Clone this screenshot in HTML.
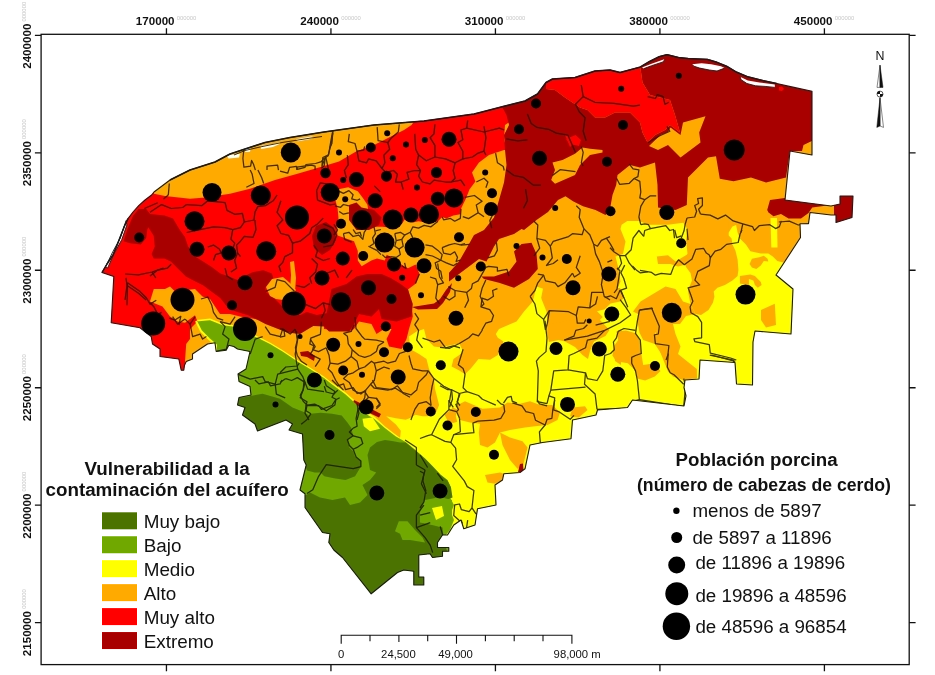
<!DOCTYPE html>
<html><head><meta charset="utf-8"><title>Mapa</title>
<style>
html,body{margin:0;padding:0;background:#fff;}
svg{display:block;font-family:"Liberation Sans",sans-serif;will-change:transform;}
.tk{font-weight:bold;font-size:11.6px;fill:#111;}
.dec{font-size:5.9px;fill:#c8c8c8;font-weight:normal;}
.lt{font-weight:bold;fill:#111;}
.li{fill:#111;}
.sb{font-size:11.3px;fill:#111;}
</style></head><body>
<svg width="935" height="675" viewBox="0 0 935 675">
<rect width="935" height="675" fill="#fff"/>
<defs><filter id="jpg" x="88" y="43" width="784" height="569" filterUnits="userSpaceOnUse" color-interpolation-filters="sRGB">
<feColorMatrix in="SourceGraphic" type="matrix" values="0.299 0.587 0.114 0 0 -0.168736 -0.331264 0.5 0 0.5 0.5 -0.418688 -0.081312 0 0.5 0 0 0 1 0" result="ycc"/>
<feGaussianBlur in="ycc" stdDeviation="1.2" result="blur"/>
<feColorMatrix in="ycc" type="matrix" values="1 0 0 0 0 0 0 0 0 0 0 0 0 0 0 0 0 0 0 1" result="yonly"/>
<feColorMatrix in="blur" type="matrix" values="0 0 0 0 0 0 1 0 0 0 0 0 1 0 0 0 0 0 0 1" result="conly"/>
<feComposite in="yonly" in2="conly" operator="arithmetic" k1="0" k2="1" k3="1" k4="0" result="sum"/>
<feColorMatrix in="sum" type="matrix" values="1 0 1.402 0 -0.701 1 -0.344136 -0.714136 0 0.531 1 1.772 0 0 -0.886 0 0 0 0 1"/>
</filter></defs>
<g filter="url(#jpg)"><rect x="80" y="36" width="800" height="584" fill="#fff"/>
<defs><clipPath id="st"><polygon points="102.0,272.5 107.0,264.0 113.0,255.0 117.5,244.0 121.5,233.7 124.5,226.0 128.0,218.6 133.0,212.0 138.7,205.7 145.0,200.0 151.6,195.0 154.0,192.0 170.0,180.0 190.0,170.0 215.0,162.0 230.0,154.0 245.0,149.0 265.0,142.5 290.0,137.5 324.0,132.0 374.0,125.0 424.0,121.0 474.0,114.0 480.0,112.5 505.0,106.0 525.0,101.0 537.5,94.0 546.0,82.5 552.5,79.0 575.0,77.5 595.0,71.0 610.0,70.0 620.0,72.5 640.0,67.1 649.6,61.4 659.3,56.6 667.0,54.6 678.5,57.5 688.1,58.5 707.4,59.4 717.0,62.3 726.6,66.2 736.3,72.0 747.8,76.8 763.2,80.6 776.7,83.5 794.0,87.4 812.0,91.2 812.0,155.0 790.0,151.0 785.0,200.0 831.0,206.0 840.0,204.0 840.0,196.0 853.0,196.0 852.0,217.5 836.0,222.5 836.0,215.0 831.0,215.0 810.0,212.5 808.5,223.8 800.0,223.8 800.5,237.5 776.0,275.0 793.0,289.0 791.0,334.0 755.0,331.0 753.0,342.0 752.5,385.0 736.5,384.0 735.0,362.5 700.0,360.0 699.0,379.0 685.0,380.0 684.0,387.5 686.0,396.0 684.0,406.0 632.5,400.0 627.5,407.5 597.5,410.0 596.0,415.0 572.5,420.0 571.0,438.8 542.5,442.5 530.0,445.0 525.0,468.8 520.0,472.5 503.8,473.8 502.5,480.0 495.0,485.0 496.0,505.0 477.5,508.8 475.0,525.0 463.8,528.8 461.0,520.0 453.8,525.0 447.5,535.0 442.5,535.0 437.5,542.5 437.5,547.5 448.8,547.5 448.8,551.2 442.5,551.2 442.5,556.2 432.5,557.5 430.0,553.8 418.8,555.0 418.8,577.0 423.8,577.0 423.8,585.0 413.8,585.0 413.8,571.2 403.8,570.0 397.5,572.5 371.2,593.8 342.5,557.5 333.8,550.0 328.8,542.5 330.0,533.8 322.5,532.5 305.0,507.5 305.0,493.8 300.0,490.0 306.2,465.0 303.8,460.0 302.5,434.0 289.0,430.0 292.5,424.0 286.0,420.0 257.5,431.0 255.0,424.0 242.5,415.0 245.0,407.5 237.5,405.0 239.0,397.5 251.0,395.0 250.0,386.5 239.0,381.5 238.0,374.0 246.0,369.0 250.0,351.5 237.5,349.0 233.8,346.5 228.8,345.2 226.2,350.2 216.2,351.5 215.0,342.8 207.5,344.0 200.0,349.0 192.5,354.0 192.5,359.0 186.2,361.5 184.5,365.2 183.8,370.2 181.2,370.2 178.8,359.0 160.0,356.5 160.0,349.0 152.5,344.0 151.2,336.5 140.0,327.8 111.2,322.8 113.8,276.5"/></clipPath></defs>
<g clip-path="url(#st)">
<rect x="90" y="40" width="780" height="570" fill="#ffaa00"/>
<polygon points="196.0,320.0 210.0,318.5 222.5,323.5 232.5,325.0 260.0,337.5 270.0,342.5 282.5,350.0 297.5,360.0 310.0,367.5 324.0,376.5 331.5,382.5 345.0,392.0 360.0,405.0 368.0,412.5 374.4,416.6 384.8,426.3 395.9,434.7 400.1,437.8 400.8,430.8 395.9,424.5 386.2,416.2 395.9,418.3 405.7,419.7 411.2,417.6 415.4,414.8 422.4,416.2 427.9,416.2 436.3,412.0 439.1,405.1 437.0,396.7 434.9,388.4 434.0,379.0 429.0,369.0 426.5,359.0 419.0,354.0 410.2,349.0 409.0,336.5 416.5,331.5 424.0,329.0 426.5,339.0 434.0,346.5 440.0,347.3 449.6,345.4 459.3,343.5 463.1,351.2 459.3,355.0 453.5,358.9 451.6,366.6 459.3,370.4 465.0,374.3 470.8,368.5 478.5,358.9 490.1,359.8 497.8,355.0 503.5,341.6 497.8,337.7 495.8,333.9 499.0,329.0 516.5,321.5 524.0,311.5 532.8,301.5 536.5,286.5 544.0,289.0 541.5,299.0 546.5,311.5 548.0,330.0 558.0,339.0 573.0,334.0 580.5,326.5 578.0,316.5 590.5,311.5 603.0,304.0 608.0,299.0 615.5,294.0 620.5,281.5 618.0,266.5 615.5,256.5 623.0,254.0 625.5,241.5 620.5,229.0 621.6,224.7 627.3,220.9 638.9,220.9 648.5,224.7 667.8,224.7 683.2,222.8 687.0,228.6 688.0,229.0 700.0,229.0 728.7,232.5 732.4,226.5 736.1,225.0 737.6,232.5 739.9,238.4 745.9,244.4 750.4,251.2 760.8,253.4 768.3,253.4 772.8,256.4 777.3,260.9 783.3,262.4 787.8,257.9 800.0,250.0 800.0,340.0 760.0,345.0 760.0,390.0 690.0,410.0 634.0,405.0 600.0,415.0 575.0,440.0 530.0,450.0 525.0,475.0 500.0,485.0 497.0,510.0 475.0,528.0 442.0,540.0 430.0,500.0 350.0,420.0 300.0,370.0 250.0,345.0 210.0,330.0" fill="#ffff00" />
<polygon points="656.8,256.5 668.0,255.2 675.5,261.5 688.0,254.0 698.0,251.5 705.5,250.2 709.2,259.0 698.0,266.5 688.0,264.0 678.0,266.5 670.5,264.0 658.0,264.0" fill="#ffaa00" />
<polygon points="687.5,222.0 728.7,222.0 728.7,235.4 731.6,238.4 732.4,244.4 735.4,250.4 737.6,259.4 738.4,269.9 737.6,275.9 732.4,280.4 724.9,284.9 717.4,287.8 713.7,291.6 714.4,296.8 712.9,302.8 708.5,310.0 701.0,315.0 695.5,314.0 690.5,304.0 688.0,291.5 689.0,287.8 692.0,280.4 690.5,272.9 686.0,266.9 684.0,262.0 687.5,253.4 686.0,240.0 687.5,229.5" fill="#ffaa00" />
<polygon points="770.5,218.0 777.0,218.0 777.5,247.4 771.3,247.4" fill="#ffff00" />
<polygon points="633.0,311.5 640.5,301.5 653.0,294.0 665.5,286.5 675.5,289.0 683.0,301.5 690.5,304.0 695.5,314.0 686.0,316.0 680.0,324.0 673.0,324.0 675.5,334.0 680.5,346.5 678.0,354.0 690.5,364.0 696.8,369.0 697.0,378.0 683.0,380.0 673.0,376.5 668.0,371.5 663.0,359.0 658.0,346.5 653.0,341.5 655.5,334.0 658.0,324.0 653.0,314.0 645.5,309.0 638.0,314.0" fill="#ffaa00" />
<polygon points="616.3,331.4 625.9,330.4 635.5,333.3 639.4,340.1 641.3,353.5 643.2,365.1 654.8,363.2 660.5,370.9 654.8,376.6 645.1,380.5 637.4,378.6 635.5,370.9 631.7,367.0 627.8,363.2 616.3,361.2 612.4,355.5 614.3,345.8 618.2,340.1" fill="#ffaa00" />
<polygon points="543.1,288.0 620.1,288.0 624.0,297.7 620.1,301.6 610.5,303.5 604.7,309.3 597.0,311.2 602.8,317.0 597.0,322.7 591.2,328.5 585.5,332.4 577.8,331.4 575.8,331.4 566.2,336.2 558.5,340.1 548.9,342.0 547.0,332.4 547.9,320.8 548.9,311.2 547.0,307.3 541.2,297.7" fill="#ffaa00" />
<polygon points="639.4,310.2 652.8,308.3 656.7,317.0 658.6,326.6 654.8,334.3 658.6,343.9 666.3,345.8 668.2,353.5 662.5,355.5 658.6,349.7 654.8,343.9 643.2,340.1 639.4,332.4 637.4,320.8" fill="#ffaa00" />
<polygon points="749.6,263.9 751.9,258.7 759.3,257.2 763.8,255.7 767.6,258.7 768.3,261.6 763.8,260.9 760.8,265.4 756.3,269.1 751.9,267.6" fill="#ffaa00" />
<polygon points="739.9,275.9 750.4,274.4 754.9,275.9 760.8,281.9 761.6,284.9 757.8,287.8 754.9,284.9 753.4,280.4 748.9,278.9 748.9,284.9 739.9,283.4" fill="#ffaa00" />
<polygon points="761.0,310.0 774.8,303.8 776.0,325.0 766.0,327.5 761.0,320.0" fill="#ffaa00" />
<polygon points="444.6,414.8 453.0,407.8 457.2,409.2 455.8,416.2 457.2,421.8 453.0,423.1 447.4,420.4" fill="#ffaa00" />
<polygon points="457.5,405.0 465.0,401.2 482.5,408.8 500.0,407.5 507.5,402.5 520.0,403.8 530.0,401.2 540.0,405.0 552.5,405.0 560.0,412.5 557.5,420.0 547.5,425.0 535.0,426.2 525.0,427.5 510.0,430.0 500.0,432.5 495.0,442.5 487.5,447.5 480.0,445.0 478.8,432.5 480.0,423.8 470.0,422.5 460.0,420.0 457.5,412.5" fill="#ffaa00" />
<polygon points="500.0,432.5 510.0,437.5 522.5,441.2 527.5,447.5 522.5,467.5 517.5,468.8 510.0,460.0 502.5,445.0" fill="#ffaa00" />
<polygon points="572.5,407.5 585.0,406.2 587.5,410.0 578.8,417.5 570.0,416.2" fill="#ffaa00" />
<polygon points="485.0,475.0 500.0,472.5 503.8,473.8 502.5,480.0 495.0,483.8 487.5,482.5" fill="#ffaa00" />
<polygon points="546.0,325.0 549.0,330.0 550.0,341.0 556.0,339.5 565.0,341.5 575.0,347.0 582.5,355.0 588.0,359.0 590.0,351.0 594.0,341.5 605.5,336.0 609.5,330.0 600.0,320.0 580.0,318.0" fill="#ffaa00" />
<polygon points="614.0,349.0 621.0,347.0 621.0,365.0 615.0,361.0" fill="#ffaa00" />
<polygon points="95.0,280.0 95.0,262.0 112.0,240.0 125.0,215.0 140.0,200.0 154.0,192.0 154.0,193.8 165.0,196.0 190.0,198.8 205.0,197.5 230.0,193.8 250.0,188.8 275.0,180.0 297.5,173.8 324.0,166.0 339.0,161.5 356.5,151.2 374.0,145.0 389.0,137.5 404.0,130.0 411.5,125.0 416.5,118.0 480.0,108.0 502.5,104.0 512.5,120.0 505.0,125.0 504.0,140.0 507.5,150.0 504.0,150.0 489.0,155.0 479.0,162.5 472.0,172.5 475.4,181.6 469.6,189.3 465.7,198.9 461.0,208.7 460.3,214.2 453.3,215.6 446.3,218.4 442.2,217.0 438.0,221.2 429.0,223.0 418.5,221.2 413.0,222.6 404.6,219.8 401.8,224.0 393.0,228.0 382.3,226.8 372.6,226.8 369.0,215.0 367.4,204.7 363.6,198.9 357.8,191.2 348.2,187.3 338.5,189.3 335.6,200.8 337.6,208.5 338.5,218.2 336.6,227.8 337.6,235.5 354.0,241.3 357.8,251.0 357.8,260.6 361.7,266.3 371.3,260.6 377.0,258.6 384.8,260.6 386.7,254.8 390.6,256.7 404.0,266.3 408.0,268.3 415.6,264.4 419.5,274.0 415.6,283.7 408.0,289.5 411.5,304.0 412.8,316.5 409.0,329.0 406.5,339.0 401.5,349.0 389.0,346.5 386.5,339.0 391.5,329.0 384.0,329.0 376.5,334.0 371.5,324.0 359.0,321.5 354.0,329.0 349.0,331.5 324.0,329.0 324.0,324.0 310.0,326.5 297.5,331.5 285.0,327.8 270.0,321.5 255.0,319.0 240.0,316.5 230.0,314.0 220.0,314.0 215.0,306.5 210.0,299.0 202.5,296.5 195.0,289.0 175.0,291.5 170.0,286.5 165.0,289.0 153.8,289.0 150.0,301.5 162.5,306.5 170.0,316.5 177.5,321.5 185.0,322.8 195.0,315.2 197.5,321.5 190.0,329.0 190.0,339.0 186.2,344.0 185.0,361.5 186.0,375.0 100.0,375.0" fill="#ff0000" />
<polygon points="546.0,80.0 552.5,75.0 575.0,73.0 595.0,67.0 610.0,66.0 620.0,68.0 640.0,65.0 642.5,82.5 650.0,95.0 670.0,100.0 675.0,115.0 680.0,132.5 670.0,125.0 665.0,130.0 655.0,135.0 647.5,142.5 642.5,132.5 640.0,122.5 630.0,112.5 615.0,112.5 605.0,117.5 595.0,117.5 587.5,110.0 580.0,107.5 572.5,102.5 565.0,97.5 555.0,90.0 546.0,89.0" fill="#ff0000" />
<polygon points="502.5,107.5 502.0,100.0 525.0,96.0 537.5,90.0 546.0,80.0 546.0,89.0 555.0,90.0 565.0,97.5 572.5,102.5 580.0,107.5 587.5,110.0 595.0,117.5 605.0,117.5 615.0,112.5 630.0,112.5 640.0,122.5 642.5,132.5 647.5,142.5 655.0,135.0 665.0,130.0 670.0,125.0 680.0,132.5 675.0,115.0 670.0,100.0 650.0,95.0 642.5,82.5 640.0,65.0 655.0,55.0 665.0,50.0 680.0,50.0 697.5,54.0 716.0,58.0 738.5,70.0 776.0,80.0 816.0,88.0 816.0,139.0 803.5,145.0 802.0,151.0 790.0,151.0 786.0,177.5 776.0,180.0 766.0,182.5 751.0,177.5 733.5,181.2 719.8,178.8 716.0,156.2 708.0,157.5 698.0,167.5 688.0,177.5 686.8,205.0 675.5,210.0 658.0,207.5 657.5,185.0 655.0,162.5 640.0,167.5 630.0,165.0 617.5,175.0 616.2,185.0 612.5,195.0 610.0,209.0 605.5,215.0 595.5,210.0 583.0,206.2 573.0,201.2 565.5,196.2 558.0,200.0 548.0,212.0 536.5,220.0 524.0,230.0 521.5,229.0 514.0,234.0 499.0,239.0 494.0,246.5 486.5,261.5 479.0,259.0 469.0,266.5 459.0,274.0 449.0,281.5 449.0,272.8 459.0,261.5 469.0,244.0 474.0,235.0 484.0,230.0 494.0,217.5 499.0,200.0 504.0,182.5 506.5,165.0 505.0,150.0 504.0,135.0 509.0,125.0 506.5,115.0" fill="#a80000" />
<polygon points="552.5,162.5 562.5,160.0 575.0,153.8 582.5,147.5 590.0,148.8 602.5,150.0 602.5,152.5 590.0,155.0 580.0,165.0 575.0,175.0 555.0,183.8 551.2,180.0 555.0,170.0" fill="#ffaa00" />
<polygon points="649.0,146.0 660.5,135.0 668.0,132.0 670.5,127.5 680.5,135.0 683.0,122.5 705.5,116.2 699.2,132.5 700.5,142.5 680.5,157.5 668.0,145.0 658.0,150.0" fill="#ffaa00" />
<polygon points="565.0,135.0 578.0,140.0 570.0,147.0" fill="#ff0000" />
<polygon points="566.0,139.0 575.5,135.0 581.0,140.0 579.0,146.0 570.0,144.0" fill="#ff0000" />
<polygon points="767.2,210.0 770.0,200.0 784.8,198.0 831.0,205.0 812.2,207.5 808.5,213.0 801.0,218.5 788.5,218.5 781.0,214.0 773.5,216.2 768.5,212.5" fill="#a80000" />
<polygon points="838.0,194.0 855.0,194.0 854.0,219.0 834.0,224.0 834.0,204.0" fill="#a80000" />
<polygon points="521.5,244.0 531.5,242.8 536.5,254.0 537.8,269.0 529.0,279.0 514.0,287.8 499.0,282.8 484.0,279.0 481.5,276.5 494.0,276.5 509.0,271.5 516.5,261.5 514.0,251.5" fill="#a80000" />
<polygon points="123.6,241.2 127.9,228.0 133.0,216.0 138.7,209.0 146.2,209.0 150.0,214.0 164.4,215.4 173.0,218.6 179.5,229.4 184.9,236.9 188.1,246.6 194.5,256.2 203.1,261.6 211.7,267.0 220.3,273.4 228.9,276.6 237.5,279.9 243.9,276.6 252.5,272.3 263.3,270.2 271.9,273.4 274.0,280.9 265.4,287.4 265.4,291.7 274.0,298.1 282.6,306.7 291.2,312.1 300.0,315.3 306.7,312.0 316.7,315.0 326.7,313.3 331.5,289.0 346.5,284.0 356.5,276.5 367.4,274.0 381.5,274.0 390.6,277.9 400.2,283.7 408.0,289.5 412.8,304.0 411.5,316.5 396.5,321.5 381.5,319.0 379.0,309.0 371.5,316.5 359.0,314.0 354.0,324.0 349.0,331.5 329.0,331.5 324.0,326.5 313.3,326.0 300.0,334.0 286.9,332.5 276.2,328.2 265.4,323.9 256.8,319.6 248.2,315.3 237.5,312.1 228.9,308.9 220.3,298.1 211.7,291.7 203.1,285.2 194.5,280.9 185.9,276.6 177.3,268.0 170.9,261.6 164.4,258.4 153.7,258.4 151.6,254.1 154.8,246.6 153.7,235.8 148.3,227.2 147.3,229.4 146.2,238.0 140.8,244.4 130.1,243.3" fill="#a80000" />
<polygon points="266.0,287.0 272.0,279.0 283.0,277.0 290.0,283.0 296.0,290.0 290.0,296.0 283.0,300.0 276.0,299.0 270.0,296.0" fill="#ffaa00" />
<polygon points="412.0,307.0 434.0,303.5 440.0,299.0 446.0,290.0 452.0,283.0 450.0,292.0 443.0,303.0 437.0,309.0 418.0,309.5" fill="#a80000" />
<polygon points="316.0,226.0 326.0,222.0 334.0,228.0 336.0,240.0 330.0,250.0 322.0,255.0 314.0,248.0 312.0,236.0" fill="#a80000" />
<polygon points="349.0,205.0 356.5,202.5 361.5,207.5 374.0,210.0 381.5,217.5 379.0,225.0 369.0,230.0 356.5,230.0 349.0,220.0" fill="#a80000" />
<polygon points="300.0,352.0 308.0,351.0 315.0,356.0 314.0,361.0 307.0,357.0 301.0,356.0" fill="#a80000" />
<polygon points="354.0,400.0 362.0,404.0 381.0,414.0 379.0,417.5 360.0,408.5 353.0,402.5" fill="#a80000" />
<polygon points="290.0,262.0 294.0,261.0 296.0,278.0 295.0,291.0 290.0,291.0 291.0,275.0" fill="#ffaa00" />
<polygon points="196.2,321.5 210.0,320.2 222.5,325.2 232.5,326.5 260.0,339.0 270.0,344.0 282.5,351.5 297.5,361.5 310.0,369.0 324.0,378.0 331.5,384.0 345.0,394.0 360.0,407.5 366.0,414.0 374.4,419.0 384.8,428.0 395.9,436.5 405.7,442.0 415.4,450.0 425.2,458.5 433.5,467.0 440.5,474.5 447.5,480.0 451.0,487.5 450.0,497.5 454.0,505.0 451.0,512.5 454.0,520.0 450.0,530.0 442.5,539.0 453.0,539.0 453.0,556.0 470.0,600.0 216.0,600.0 216.0,345.0 209.0,339.0 201.0,331.0" fill="#70a800" />
<polygon points="362.5,418.8 372.5,417.5 380.0,428.8 370.0,431.2 363.8,426.2" fill="#ffff00" />
<polygon points="242.5,397.5 262.5,393.8 280.0,398.8 292.5,407.5 305.0,412.5 310.0,416.2 302.5,422.5 300.0,432.5 292.5,431.2 288.8,430.0 292.5,423.8 286.2,420.0 257.5,431.2 255.0,423.8 242.5,415.0 245.0,407.5 237.5,405.0 230.0,397.5" fill="#4c7300" />
<polygon points="298.0,433.0 301.2,424.3 307.0,419.5 310.9,413.7 320.5,412.7 332.0,413.7 341.7,415.6 347.4,422.4 351.3,428.1 353.2,435.8 347.4,439.7 349.4,447.4 353.2,451.2 355.1,457.0 360.9,460.9 360.9,466.6 355.1,476.3 345.5,480.1 334.0,478.2 324.3,476.3 320.5,472.4 314.7,472.4 307.0,470.5 303.2,460.9 298.0,443.5" fill="#4c7300" />
<polygon points="306.2,495.0 310.0,492.5 320.0,497.5 332.5,500.0 345.0,497.5 350.0,505.0 360.0,502.5 367.5,495.0 362.5,485.0 370.0,480.0 376.2,472.5 370.0,470.0 367.5,455.0 370.0,447.5 377.0,442.0 385.0,440.0 392.0,441.0 400.0,442.5 405.7,442.5 415.4,450.5 425.2,459.0 433.5,467.5 440.5,475.0 447.5,480.5 451.0,487.5 452.5,497.5 440.0,502.5 430.0,500.0 427.5,507.5 420.0,515.0 420.0,522.5 435.0,525.0 442.5,527.5 444.0,540.0 460.0,600.0 290.0,600.0 290.0,500.0" fill="#4c7300" />
<polygon points="395.0,531.2 398.8,521.2 407.5,521.2 415.0,530.0 422.5,537.5 425.0,542.5 410.0,540.0 402.5,540.0 400.0,533.8" fill="#70a800" />
<polygon points="425.0,500.0 440.0,497.0 452.0,500.0 452.0,518.0 440.0,527.0 420.0,522.0 420.0,512.0" fill="#70a800" />
<polygon points="432.0,508.0 442.0,506.0 444.0,516.0 436.0,520.0" fill="#ffff00" />
<polygon points="520.0,464.0 523.0,463.5 523.5,470.0 521.0,473.0 518.0,472.0" fill="#a80000" />
<polygon points="779.0,87.0 782.0,86.5 784.0,89.0 782.0,91.0 779.0,90.5" fill="#ff0000" />
<polyline points="196.0,321.0 201.0,331.0 209.0,339.0 216.0,345.0 216.0,352.0" fill="none" stroke="#ffff00" stroke-width="2.0"/>
</g>
<polygon points="126.1,220.6 126.9,225.0 121.7,239.8 114.3,253.1 107.6,268.0 105.4,267.2 112.8,251.7 120.2,238.3 124.6,225.0" fill="#fff" />
<polygon points="226.6,155.6 240.0,153.7 239.1,157.5 228.5,158.5" fill="#fff" />
<polygon points="244.8,149.2 250.6,148.5 250.0,151.8 245.5,152.0" fill="#fff" />
<polygon points="260.2,146.0 272.8,144.1 280.5,142.1 279.5,144.1 272.8,147.0 261.2,148.9" fill="#fff" />
<polygon points="295.9,139.3 311.3,136.4 315.1,137.3 309.3,139.3 297.8,141.2" fill="#fff" />
<polygon points="642.0,67.6 651.6,63.8 665.0,59.0 663.1,61.9 651.6,65.7 643.9,68.6" fill="#fff" />
<polygon points="692.0,64.3 701.6,63.3 711.2,64.3 720.9,66.2 724.7,68.1 717.0,71.0 709.3,70.0 699.7,68.1 693.9,66.2" fill="#fff" />
<polygon points="740.1,76.8 747.8,80.6 759.4,82.5 774.8,84.5 774.8,87.4 765.1,86.4 755.5,85.8 746.9,83.5 741.1,79.7" fill="#fff" />
<g clip-path="url(#st)" fill="none" stroke="#1c1408" stroke-width="1.25" stroke-linejoin="round" opacity="0.85">
<polyline points="606.4,238.1 610.3,243.9 614.1,250.6" />
<polyline points="614.1,293.0 617.0,289.1 619.9,270.8 617.0,267.9" />
<polyline points="612.2,260.2 607.4,262.2" />
<polyline points="624.7,265.1 620.9,272.8 623.8,278.5 626.6,288.2 620.9,290.1 623.8,297.8" />
<polyline points="632.4,266.0 636.3,269.9 640.1,272.8 647.8,271.8" />
<polyline points="332.9,132.7 331.0,144.3 328.1,155.8 325.2,157.8 324.3,165.5 321.4,168.3" />
<polyline points="280.0,171.2 287.7,173.2 289.6,167.4 296.4,166.4 297.3,169.3 305.0,167.4 306.0,164.5 315.6,163.5 321.4,161.6 324.3,157.8" />
<polyline points="316.6,190.5 320.4,182.8 330.1,184.7 335.8,190.5" />
<polyline points="316.6,190.5 317.5,200.1" />
<polyline points="317.5,200.1 330.1,204.9 335.8,204.0" />
<polyline points="581.3,146.6 583.2,152.4 581.3,163.0 583.2,165.9" />
<polyline points="552.4,175.5 560.1,169.7 567.8,170.7 575.5,171.6" />
<polyline points="527.4,113.9 531.2,123.5 537.0,127.4 548.6,129.3 556.3,133.1 567.8,135.1" />
<polyline points="581.3,85.0 583.2,96.6 575.5,104.3 579.4,112.0 585.1,117.7 583.2,131.2 586.1,140.8" />
<polyline points="583.2,96.6 594.8,102.3 614.0,103.3 633.3,106.2 640.0,105.2" />
<polyline points="506.2,138.9 517.8,140.8 527.4,139.9" />
<polyline points="506.2,169.7 513.9,175.5 523.5,177.4 533.2,185.1 540.9,185.1" />
<polyline points="567.8,135.1 575.5,152.4" />
<polyline points="525.5,189.0 527.4,200.5 523.5,208.2" />
<polyline points="647.7,96.6 655.4,98.5 657.3,94.6 663.1,96.6 665.0,104.3 668.9,102.3" />
<polyline points="667.0,126.4 669.8,131.2 659.3,136.0 647.7,142.8" />
<polyline points="169.3,183.5 168.3,195.0" />
<polyline points="125.0,274.0 138.5,274.9 152.0,272.0 163.5,268.2" />
<polyline points="126.0,277.8 127.0,285.5 125.0,300.0" />
<polyline points="127.0,285.5 138.5,293.2 146.2,300.0" />
<polyline points="246.3,187.3 254.0,183.5 252.1,173.9 250.2,170.0" />
<polyline points="257.9,170.0 261.7,177.7 263.7,183.5" />
<polyline points="152.0,272.0 155.8,277.8" />
<polyline points="144.3,208.5 157.8,202.7" />
<polyline points="163.5,198.9 168.3,195.0" />
<polyline points="419.4,274.0 415.5,283.6" />
<polyline points="323.1,223.9 332.7,227.8" />
<polyline points="332.7,227.8 336.6,235.5 332.7,245.1 323.1,247.0" />
<polyline points="325.0,274.0 334.7,270.1 338.5,277.8" />
<polyline points="346.2,277.8 352.0,270.1" />
<polyline points="280.0,328.5 283.9,329.5 284.8,336.2 280.0,337.2" />
<polyline points="296.4,331.4 297.3,340.1 295.4,347.8 297.3,355.5 301.2,361.2 307.0,365.1" />
<polyline points="321.4,321.8 320.4,334.3 310.8,338.1 309.8,343.9 313.7,345.8 312.7,349.7 318.5,351.6 326.2,347.8" />
<polyline points="326.2,347.8 329.1,355.5 330.1,363.2 328.1,368.9 332.0,372.8 335.8,380.5 339.7,386.3 343.5,390.1" />
<polyline points="330.1,363.2 337.8,364.1 345.5,361.2 351.2,356.4 352.2,349.7 348.3,343.9 347.4,336.2 343.5,333.3" />
<polyline points="343.5,333.3 351.2,331.4 354.1,324.7" />
<polyline points="355.1,317.0 356.0,328.5 361.8,336.2 364.7,339.1 376.3,340.1 384.0,342.0" />
<polyline points="352.2,349.7 358.9,355.5 364.7,357.4 370.5,355.5 376.3,351.6 378.2,345.8 384.0,342.0" />
<polyline points="351.2,356.4 357.0,361.2 358.9,368.9 353.2,372.8 347.4,374.7 343.5,378.6 349.3,382.4 353.2,390.1 360.9,394.0 365.7,390.1" />
<polyline points="358.9,368.9 364.7,367.0 371.5,361.2 374.3,363.2 376.3,370.9 374.3,380.5 370.5,384.3 365.7,390.1" />
<polyline points="374.3,363.2 384.0,361.2 387.8,363.2 395.5,361.2 399.4,353.5 405.1,351.6 409.0,347.8" />
<polyline points="376.3,370.9 384.0,367.0 389.7,368.9" />
<polyline points="370.5,384.3 374.3,388.2 387.8,390.1 395.5,388.2 401.3,392.0 410.9,394.9 416.7,390.1 418.6,382.4 426.3,374.7 428.2,370.9" />
<polyline points="409.0,355.5 410.9,363.2 412.8,368.9 422.5,370.9 428.2,370.9 434.0,378.6 432.1,386.3 430.2,397.8 431.1,405.5" />
<polyline points="365.7,390.1 364.7,397.8 362.8,401.7" />
<polyline points="376.3,397.8 380.1,403.6 376.3,407.4" />
<polyline points="410.9,420.0 414.8,409.4 418.6,403.6 426.3,401.7 431.1,405.5" />
<polyline points="414.8,313.1 418.6,318.9 414.8,324.7 418.6,330.4 416.7,340.1 422.5,347.8" />
<polyline points="422.5,338.1 434.0,342.0 439.8,340.1 445.6,347.8 453.3,345.8 460.0,347.8" />
<polyline points="434.0,378.6 443.7,386.3 451.4,390.1 449.4,401.7 453.3,407.4" />
<polyline points="460.0,394.0 457.1,401.7 460.0,405.5" />
<polyline points="280.0,372.8 285.8,367.0 297.3,366.0 299.3,363.2" />
<polyline points="285.8,378.6 291.6,380.5 297.3,377.6 305.0,382.4 303.1,390.1 300.2,397.8 307.0,401.7 306.0,405.5 318.5,405.5 321.4,409.4 332.0,405.5 335.8,399.7 339.7,397.8" />
<polyline points="324.3,386.3 326.2,392.0 333.9,394.0 337.8,390.1" />
<polyline points="280.0,382.4 285.8,378.6" />
<polyline points="306.0,405.5 305.0,413.2 308.9,420.0" />
<polyline points="357.0,403.6 358.9,413.2 357.0,420.0" />
<polyline points="440.0,385.8 447.7,389.7 451.6,389.7 452.5,399.3 449.6,407.0" />
<polyline points="451.6,389.7 459.3,393.5 467.0,391.6 478.5,395.5 482.4,399.3 495.8,405.1" />
<polyline points="503.5,403.2 507.4,397.4 511.2,396.4 512.2,401.2 517.0,403.2" />
<polyline points="459.3,393.5 456.4,407.0" />
<polyline points="463.1,349.3 458.3,364.7 463.1,368.5 465.0,374.3 463.1,387.8 467.0,391.6" />
<polyline points="440.0,347.3 449.6,348.3 459.3,343.5 468.9,337.7 472.7,333.9 478.5,335.8 482.4,330.0" />
<polyline points="711.4,355.0 735.2,361.3" />
<polyline points="778.8,222.0 789.3,221.2 798.3,225.0 808.7,223.5 811.7,214.5" />
<polyline points="709.8,355.2 733.5,360.2 734.8,368.9" />
<polyline points="255.0,380.0 258.9,383.9 268.5,381.9 270.4,385.8 280.1,383.9 282.0,380.0" />
<polyline points="304.1,380.0 303.2,389.6 300.3,395.4 303.2,401.2 307.0,405.0 306.0,410.8 310.9,413.7" />
<polyline points="307.0,405.0 314.7,404.1 320.5,407.0 326.3,410.8 334.9,405.0 335.9,399.3 332.0,397.3 334.9,391.6 326.3,385.8 324.3,380.0" />
<polyline points="310.9,413.7 307.0,419.5 301.2,424.3" />
<polyline points="353.2,428.1 349.4,432.0 353.2,435.8 347.4,439.7 349.4,445.5 353.2,449.3 356.1,457.0 360.9,460.9 360.9,466.6 353.2,468.6 326.3,464.7 318.6,476.3 312.8,489.7 307.0,493.6" />
<polyline points="353.2,428.1 357.1,426.2 356.1,418.5 358.0,408.9 362.8,407.0" />
<polyline points="353.2,435.8 360.9,437.8 362.8,443.5 357.1,447.4 353.2,449.3" />
<polyline points="332.0,380.0 337.8,385.8 343.6,383.9 345.5,389.6 353.2,387.7 357.1,393.5 364.8,391.6 368.6,397.3 364.8,401.2" />
<polyline points="368.6,397.3 376.3,398.3 380.2,405.0 376.3,408.9" />
<polyline points="372.5,380.0 376.3,387.7 391.7,389.6 397.5,385.8 403.3,393.5 410.0,397.3" />
<polyline points="416.4,465.0 425.1,470.0" />
<polyline points="425.1,470.0 421.4,483.8 426.4,493.8" />
<polyline points="423.9,505.1 416.4,515.1 416.4,527.6 425.1,537.6 430.2,545.1 432.7,552.6" />
<polyline points="420.1,455.0 427.6,467.5" />
<polyline points="416.4,465.0 416.4,447.5 405.1,440.0" />
<polyline points="467.7,520.1 466.4,528.8 462.7,528.8 461.4,520.1" />
<polyline points="416.4,527.6 430.2,522.6" />
<polyline points="440.2,526.3 442.7,535.1" />
<polyline points="420.1,515.1 430.2,512.6" />
<polyline points="127.5,282.8 127.0,305.3" />
<polyline points="127.5,282.8 140.1,291.6 146.3,297.8 150.1,304.1 156.3,300.3" />
<polyline points="220.1,321.6 225.1,326.6 222.6,334.1 228.9,339.1 226.4,349.1 215.1,351.6" />
<polyline points="172.6,316.6 177.6,324.1 185.1,319.1" />
<polyline points="185.1,319.1 190.1,324.1 195.1,316.6" />
<polyline points="190.1,324.1 192.6,336.6 200.1,334.1 202.6,339.1 206.4,336.6" />
<polyline points="220.1,321.6 230.1,324.1 235.1,316.6" />
<polyline points="265.2,326.6 270.2,334.1 280.2,336.6 282.7,329.1 290.2,334.1 295.2,329.1" />
<polyline points="237.6,374.1 250.2,379.2 262.7,376.6 265.2,381.7 275.2,384.2 277.7,374.1 297.7,369.1 302.7,376.6 307.7,389.2 324.0,391.7" />
<polyline points="275.2,384.2 276.4,394.2 285.2,397.9" />
<polyline points="297.7,369.1 295.2,354.1 297.7,339.1 295.2,329.1" />
<polyline points="310.2,339.1 315.2,346.6 310.2,354.1 320.2,359.1 315.2,366.6" />
<polyline points="250.2,354.1 255.2,339.1 262.7,336.6" />
<polyline points="604.7,297.7 610.5,295.8 616.3,298.7 620.1,290.0" />
<polyline points="545.0,320.8 547.0,338.1 546.0,351.6 539.3,357.4 536.4,361.2 538.3,370.9 537.3,401.7 547.0,403.6" />
<polyline points="547.0,403.6 548.9,395.9 554.7,397.8 553.7,409.4" />
<polyline points="564.3,340.1 573.9,336.2 575.8,330.4 583.5,328.5 587.4,324.7" />
<polyline points="564.3,340.1 587.4,336.2 604.7,330.4 620.1,322.7 630.7,315.0 625.9,307.3 620.1,299.6" />
<polyline points="550.8,390.1 553.7,370.9 568.1,369.9 569.1,355.5 573.9,353.5 585.5,347.8 587.4,340.1 597.0,338.1 604.7,330.4" />
<polyline points="568.1,369.9 585.5,372.8 587.4,378.6 597.0,380.5 602.8,370.9 604.7,355.5 610.5,353.5 614.3,349.7 613.4,342.0 616.3,338.1 618.2,331.4 624.0,328.5 635.5,330.4" />
<polyline points="585.5,372.8 584.5,384.3 595.1,394.0 597.0,409.4" />
<polyline points="597.0,409.4 627.8,408.4 631.7,401.7 639.4,399.7 683.7,406.5 685.6,386.3 683.7,378.6" />
<polyline points="639.4,399.7 637.4,380.5 635.5,370.9 631.7,363.2 631.7,357.4 635.5,355.5 641.3,353.5 640.3,340.1 635.5,333.3 637.4,320.8 639.4,310.2 652.8,308.3" />
<polyline points="668.2,353.5 667.3,367.0 670.2,372.8 674.0,374.7 683.7,384.3" />
<polyline points="550.8,390.1 585.5,387.2" />
<polyline points="550.8,390.1 548.9,395.9" />
<polyline points="620.1,290.0 624.0,297.7 627.8,307.3" />
<polyline points="460.8,245.2 469.5,244.3" />
<polyline points="437.7,263.5 439.6,277.0 443.5,282.8 437.7,284.7" />
<polyline points="430.0,277.0 435.8,278.9 437.7,284.7 435.8,298.2 439.6,304.0" />
<polyline points="448.3,286.6 455.0,290.5 455.0,296.3 449.3,300.1 443.5,296.3" />
<polyline points="455.0,290.5 466.6,292.4 471.4,288.6 472.4,283.8 478.1,280.9 482.0,274.1" />
<polyline points="482.0,274.1 485.8,267.4 488.7,266.4 497.4,267.4 497.4,271.2 507.0,269.3 508.9,276.0" />
<polyline points="487.8,257.8 494.5,255.8 497.4,250.1 496.4,242.4" />
<polyline points="485.8,279.9 482.0,288.6 480.1,296.3 483.9,304.0 481.0,306.9 489.7,309.7 493.5,315.5 491.6,321.3 485.8,323.2 482.0,330.0" />
<polyline points="481.0,306.9 482.0,298.2 487.8,300.1 493.5,296.3 492.6,290.5 497.4,288.6" />
<polyline points="534.0,221.2 537.8,225.0 536.9,238.5 539.7,248.1 534.0,255.8" />
<polyline points="536.9,238.5 545.5,240.4 550.3,246.2 553.2,241.4 568.6,236.6 572.5,233.7 582.1,234.7 584.0,228.9 579.2,217.3 580.2,209.6 576.3,205.8" />
<polyline points="550.3,246.2 552.3,257.8 546.5,265.5 553.2,263.5 558.0,259.7" />
<polyline points="584.0,228.9 589.8,234.7 593.7,244.3 597.5,246.2 601.4,240.4 610.0,236.6" />
<polyline points="593.7,244.3 595.6,253.9 599.4,261.6 603.3,273.2 601.4,284.7 604.2,296.3 610.0,300.1" />
<polyline points="580.2,255.8 576.3,267.4 580.2,273.2 574.4,277.0 572.5,273.2" />
<polyline points="537.8,274.1 543.6,275.1 545.5,280.9 555.1,282.8 558.0,286.6 564.8,282.8 572.5,273.2" />
<polyline points="530.1,296.3 534.9,290.5 537.8,282.8 543.6,275.1" />
<polyline points="530.1,296.3 534.9,304.0 536.9,313.6 543.6,319.4 545.5,330.0" />
<polyline points="543.6,319.4 549.4,310.7 568.6,311.7 576.3,315.5 578.2,306.9 589.8,307.8 591.7,292.4 603.3,292.4" />
<polyline points="576.3,315.5 577.3,323.2 584.0,323.2 585.9,319.4" />
<polyline points="589.8,307.8 595.6,304.0 597.5,296.3" />
<polyline points="595.6,325.1 610.0,321.3" />
<polyline points="549.4,310.7 547.4,323.2 545.5,330.0" />
<polyline points="466.6,292.4 468.5,300.1 464.7,307.8" />
<polyline points="629.3,164.1 633.1,168.9 638.9,169.8 637.9,176.6 634.1,178.5 639.8,181.4 640.8,192.0 639.8,197.8 644.7,199.7 640.8,206.4 638.9,217.0 640.8,224.7" />
<polyline points="616.7,178.5 619.6,184.3 629.3,183.3 634.1,178.5" />
<polyline points="644.7,199.7 650.4,195.8 656.2,195.8" />
<polyline points="640.8,224.7 644.7,223.8 648.5,224.7 650.4,228.6 644.7,230.5 643.7,236.3" />
<polyline points="643.7,236.3 638.9,230.5 633.1,238.2 631.2,249.7 625.4,255.5 629.3,263.2 635.0,270.0" />
<polyline points="650.4,228.6 665.8,225.7 669.7,230.5 673.5,229.5 674.5,238.2" />
<polyline points="681.2,238.2 684.1,230.5 685.1,224.7 687.0,218.0" />
<polyline points="687.0,218.0 694.7,217.0 696.6,211.2 694.7,205.5 698.6,203.5 697.6,198.7 702.4,197.8 702.4,205.5 698.6,209.3 700.5,214.1" />
<polyline points="700.5,214.1 710.1,215.1 717.8,218.9 725.5,215.1 733.2,220.9 742.8,223.8 752.5,226.6 754.4,230.5 759.2,225.7 769.8,224.7 775.6,228.6 779.4,226.6 781.4,220.9" />
<polyline points="742.8,223.8 740.9,232.4" />
<polyline points="610.0,247.8 613.9,251.7 619.6,255.5 625.4,255.5" />
<polyline points="619.6,255.5 621.6,263.2 617.7,270.0" />
<polyline points="687.0,228.6 688.0,240.1" />
<polyline points="448.9,400.0 448.9,409.6 439.3,419.3 431.6,434.7 427.7,435.6 420.0,438.5" />
<polyline points="431.6,434.7 445.0,441.4 450.8,442.4 453.7,434.7 473.9,432.7 472.9,423.1 477.8,421.2" />
<polyline points="450.8,442.4 455.6,448.1 456.6,459.7 452.7,466.4 464.3,480.9 467.2,486.6 473.9,490.5 472.0,507.8 469.1,511.7 461.4,509.7 459.5,504.0 454.7,504.9 453.7,515.5 462.4,523.2" />
<polyline points="459.5,418.3 460.4,431.8 453.7,434.7" />
<polyline points="448.9,409.6 456.6,411.6 459.5,418.3" />
<polyline points="455.6,403.9 458.5,409.6 456.6,411.6" />
<polyline points="503.8,404.8 504.7,411.6 500.9,418.3 494.1,420.2 477.8,421.2" />
<polyline points="512.4,402.9 522.0,405.8 525.9,411.6 533.6,413.5 535.5,420.2 545.1,425.0 547.1,419.3 551.9,418.3 552.8,409.6 554.8,400.0" />
<polyline points="545.1,425.0 539.4,431.8 540.3,442.4 543.2,445.2" />
<polyline points="472.0,507.8 475.8,513.6 477.8,513.6" />
<polyline points="497.0,400.0 500.9,403.9 503.8,404.8" />
<polyline points="552.8,409.6 558.6,411.6 570.2,419.3 574.0,415.4" />
<polyline points="537.4,400.0 539.4,403.9 547.1,405.8" />
<polyline points="420.0,471.2 423.9,473.2 422.9,480.9 425.8,490.5 423.9,502.0 420.0,507.8" />
<polyline points="437.3,473.2 443.1,480.9" />
<polyline points="243.9,148.9 242.9,158.5 243.9,167.2 250.6,166.2 251.6,160.4 253.5,164.3 255.4,170.1" />
<polyline points="267.0,170.1 267.0,166.2 277.6,165.2 278.5,170.1" />
<polyline points="296.8,170.1 296.8,167.2 311.3,165.2 315.1,166.2 315.1,170.1" />
<polyline points="332.4,132.5 330.5,143.1 328.6,154.7 322.8,157.5 321.9,166.2 325.7,156.6 328.6,170.1" />
<polyline points="150.0,212.3 161.6,204.6 171.2,208.5 182.7,207.5 186.6,204.6" />
<polyline points="186.6,204.6 202.0,205.6 207.8,200.8 225.1,202.7 227.0,210.4 234.7,214.3 242.4,213.3 244.3,222.0 240.5,227.7 232.8,229.7 230.9,239.3 234.7,243.1 232.8,248.9" />
<polyline points="186.6,232.5 200.1,229.7 213.5,226.8 225.1,227.7 232.8,229.7" />
<polyline points="244.3,222.0 254.0,220.0 254.9,212.3 257.8,206.6 265.5,205.6 273.2,200.8 277.1,195.0" />
<polyline points="254.9,220.0 255.9,229.7 253.0,237.4 244.3,236.4 240.5,241.2 236.6,245.1 237.6,252.8 240.5,256.6" />
<polyline points="207.8,247.0 213.5,245.1 219.3,248.9 221.2,252.8 215.5,254.7 213.5,260.5" />
<polyline points="237.6,252.8 234.7,260.5 236.6,268.2 230.9,272.0" />
<polyline points="225.1,268.2 227.0,275.9 232.8,279.7" />
<polyline points="280.9,200.8 277.1,212.3 282.8,220.0 277.1,225.8 280.9,233.5 288.6,235.4 292.5,243.1 292.5,252.8 284.8,256.6 282.8,262.4 279.0,266.2 280.9,272.0" />
<polyline points="292.5,243.1 300.2,241.2 309.8,233.5 311.7,227.7 317.5,223.9 323.3,218.1" />
<polyline points="313.7,245.1 317.5,250.8 315.6,256.6 323.3,260.5 330.0,258.5" />
<polyline points="311.7,258.5 317.5,264.3 315.6,272.0 309.8,277.8 311.7,283.6" />
<polyline points="296.3,285.5 304.0,287.4 309.8,283.6" />
<polyline points="150.0,275.9 157.7,270.1 167.3,268.2 171.2,264.3" />
<polyline points="265.5,291.3 275.1,287.4 277.1,279.7 284.8,281.6 290.5,287.4 294.4,291.3" />
<polyline points="305.9,304.7 315.6,308.6 323.3,302.8 330.0,304.7" />
<polyline points="321.4,318.2 325.2,310.5 323.3,302.8" />
<polyline points="201.0,299.0 207.8,297.0 211.6,304.7 213.5,312.4 217.4,318.2 223.2,320.1" />
<polyline points="169.3,318.2 175.0,320.1 180.8,316.3 178.9,325.0" />
<polyline points="150.0,302.8 153.9,306.7 157.7,314.4 161.6,312.4" />
<polyline points="332.9,131.0 331.9,143.5 330.0,147.4" />
<polyline points="349.3,133.9 348.3,141.6 355.0,143.5 357.0,151.2 363.7,150.2 364.7,146.4" />
<polyline points="377.2,127.1 378.1,140.6 387.8,142.5 391.6,137.7" />
<polyline points="399.3,124.3 398.3,132.0 391.6,137.7" />
<polyline points="387.8,142.5 389.7,149.3 383.9,155.1 384.9,162.8 382.0,168.5 385.8,172.4" />
<polyline points="357.0,151.2 358.9,160.8 366.6,162.8 368.5,158.9 376.2,160.8 382.0,168.5" />
<polyline points="347.3,155.1 348.3,164.7 344.4,170.5 346.4,178.2" />
<polyline points="414.7,133.9 415.7,149.3 418.6,155.1 416.6,164.7 420.5,170.5 418.6,176.2 422.4,182.0" />
<polyline points="434.9,124.3 434.0,133.9 430.1,137.7 434.9,145.4 434.9,157.0 426.3,160.8 418.6,155.1" />
<polyline points="434.9,157.0 445.5,158.9 455.1,162.8 453.2,170.5 455.1,178.2 451.3,182.0" />
<polyline points="467.7,120.4 466.7,128.1 460.9,130.0 462.8,139.7 458.0,142.5 462.8,151.2 462.8,158.9 455.1,162.8" />
<polyline points="462.8,158.9 472.5,157.0 478.2,153.1 484.0,151.2" />
<polyline points="484.0,126.2 485.9,137.7 484.0,151.2 485.9,155.1" />
<polyline points="466.7,128.1 484.0,132.0 499.4,128.1 504.2,130.0" />
<polyline points="401.2,182.0 408.9,179.1 407.0,172.4 414.7,170.5 420.5,170.5" />
<polyline points="401.2,182.0 403.2,189.7" />
<polyline points="422.4,182.0 430.1,183.9 434.0,180.1 445.5,182.0 451.3,182.0 460.9,180.1 464.8,185.9" />
<polyline points="385.8,172.4 393.5,170.5 397.4,174.3 395.5,182.0 401.2,182.0" />
<polyline points="374.3,185.9 380.1,191.6" />
<polyline points="476.3,182.0 484.0,178.2 487.9,182.0 485.9,187.8" />
<polyline points="464.8,197.4 474.4,195.5 482.1,201.3 476.3,205.1 478.2,212.8 484.0,216.7" />
<polyline points="462.8,216.7 468.6,218.6 478.2,212.8" />
<polyline points="495.6,153.1 497.5,162.8 503.3,166.6 504.2,170.5" />
<polyline points="333.9,224.4 337.7,230.1" />
<polyline points="337.7,230.1 333.9,235.0" />
<polyline points="493.7,212.8 489.8,220.5 491.7,228.2" />
<polyline points="337.8,190.6 343.4,193.4 348.9,190.6 353.1,194.7 351.7,198.9 357.3,200.3 360.1,198.9" />
<polyline points="335.0,205.9 340.6,207.3 343.4,204.5 348.9,205.9" />
<polyline points="339.2,211.4 343.4,214.2 348.9,212.8" />
<polyline points="343.4,233.7 348.9,232.3 353.1,236.5 358.7,235.1 362.8,239.3 364.2,232.3 367.0,228.1" />
<polyline points="343.4,233.7 344.7,239.3 351.7,242.1" />
<polyline points="353.1,229.5 355.9,233.7 360.1,232.3 361.4,236.5" />
<polyline points="374.0,226.8 375.4,233.7 372.6,237.9 374.0,243.5 369.8,246.2" />
<polyline points="375.4,230.9 380.9,229.5" />
<polyline points="394.8,233.7 400.4,232.3 404.6,235.1 410.2,232.3 412.9,226.8 418.5,228.1 424.1,225.4 431.0,226.8 438.0,221.2" />
<polyline points="396.2,240.7 401.8,239.3 404.6,235.1" />
<polyline points="394.8,233.7 396.2,240.7 394.8,246.2 399.0,249.0 403.2,246.2 401.8,239.3" />
<polyline points="399.0,249.0 400.4,254.6 396.2,257.4 390.7,256.7" />
<polyline points="410.2,232.3 412.9,237.9 410.2,239.3" />
<polyline points="425.5,244.8 432.4,246.2 438.0,250.4 442.2,254.6 440.8,260.2 435.2,262.9 436.6,268.5 440.8,271.3 442.2,278.9" />
<polyline points="442.2,247.6 449.1,244.8 454.7,243.5 460.3,244.8 465.0,243.5" />
<polyline points="442.2,247.6 443.6,253.2 450.5,254.6 454.7,251.8 457.5,257.4 456.1,261.5 460.3,260.2" />
<polyline points="440.8,260.2 446.3,262.9 453.3,265.7 457.5,262.9" />
<polyline points="425.5,254.6 432.4,256.0 438.0,258.8 440.8,260.2" />
<polyline points="401.8,265.7 406.0,268.5 404.6,262.9" />
<polyline points="442.2,217.0 443.6,219.8 450.5,218.4 454.7,221.2 460.3,218.4 461.0,208.7" />
<polyline points="368.4,246.2 376.8,250.4 380.9,254.6" />
<polyline points="382.3,254.6 385.1,257.4 390.7,256.7" />
<polyline points="640.0,270.4 651.6,272.4 655.4,275.2 661.2,273.3 670.8,274.3 673.7,266.6 678.5,259.8 684.3,264.7 692.0,258.9 695.8,249.3 703.5,248.3 706.4,253.1 709.3,255.0 710.3,257.9 715.1,251.2 720.9,249.3 726.6,244.4 738.2,242.5 740.1,233.9 742.0,230.0" />
<polyline points="710.3,257.9 709.3,265.6 697.8,271.4 694.9,280.1 699.7,284.9 688.1,287.8 691.0,295.5 692.9,301.2 690.1,307.0 691.0,312.8 697.8,316.6 701.6,322.4 701.6,337.8 693.9,338.8 694.9,341.7 709.3,344.6 710.3,353.2 730.5,358.0 736.3,360.0" />
<polyline points="640.0,309.9 651.6,308.0 654.4,314.7 659.3,326.3 658.3,334.0 654.4,334.9 655.4,343.6 668.9,345.5 667.9,355.1 666.0,360.0" />
<polyline points="674.7,230.0 676.6,237.7 681.4,235.8" />
</g>
<polygon points="102.0,272.5 107.0,264.0 113.0,255.0 117.5,244.0 121.5,233.7 124.5,226.0 128.0,218.6 133.0,212.0 138.7,205.7 145.0,200.0 151.6,195.0 154.0,192.0 170.0,180.0 190.0,170.0 215.0,162.0 230.0,154.0 245.0,149.0 265.0,142.5 290.0,137.5 324.0,132.0 374.0,125.0 424.0,121.0 474.0,114.0 480.0,112.5 505.0,106.0 525.0,101.0 537.5,94.0 546.0,82.5 552.5,79.0 575.0,77.5 595.0,71.0 610.0,70.0 620.0,72.5 640.0,67.1 649.6,61.4 659.3,56.6 667.0,54.6 678.5,57.5 688.1,58.5 707.4,59.4 717.0,62.3 726.6,66.2 736.3,72.0 747.8,76.8 763.2,80.6 776.7,83.5 794.0,87.4 812.0,91.2 812.0,155.0 790.0,151.0 785.0,200.0 831.0,206.0 840.0,204.0 840.0,196.0 853.0,196.0 852.0,217.5 836.0,222.5 836.0,215.0 831.0,215.0 810.0,212.5 808.5,223.8 800.0,223.8 800.5,237.5 776.0,275.0 793.0,289.0 791.0,334.0 755.0,331.0 753.0,342.0 752.5,385.0 736.5,384.0 735.0,362.5 700.0,360.0 699.0,379.0 685.0,380.0 684.0,387.5 686.0,396.0 684.0,406.0 632.5,400.0 627.5,407.5 597.5,410.0 596.0,415.0 572.5,420.0 571.0,438.8 542.5,442.5 530.0,445.0 525.0,468.8 520.0,472.5 503.8,473.8 502.5,480.0 495.0,485.0 496.0,505.0 477.5,508.8 475.0,525.0 463.8,528.8 461.0,520.0 453.8,525.0 447.5,535.0 442.5,535.0 437.5,542.5 437.5,547.5 448.8,547.5 448.8,551.2 442.5,551.2 442.5,556.2 432.5,557.5 430.0,553.8 418.8,555.0 418.8,577.0 423.8,577.0 423.8,585.0 413.8,585.0 413.8,571.2 403.8,570.0 397.5,572.5 371.2,593.8 342.5,557.5 333.8,550.0 328.8,542.5 330.0,533.8 322.5,532.5 305.0,507.5 305.0,493.8 300.0,490.0 306.2,465.0 303.8,460.0 302.5,434.0 289.0,430.0 292.5,424.0 286.0,420.0 257.5,431.0 255.0,424.0 242.5,415.0 245.0,407.5 237.5,405.0 239.0,397.5 251.0,395.0 250.0,386.5 239.0,381.5 238.0,374.0 246.0,369.0 250.0,351.5 237.5,349.0 233.8,346.5 228.8,345.2 226.2,350.2 216.2,351.5 215.0,342.8 207.5,344.0 200.0,349.0 192.5,354.0 192.5,359.0 186.2,361.5 184.5,365.2 183.8,370.2 181.2,370.2 178.8,359.0 160.0,356.5 160.0,349.0 152.5,344.0 151.2,336.5 140.0,327.8 111.2,322.8 113.8,276.5" fill="none" stroke="#1a1a1a" stroke-width="1.1" stroke-linejoin="round"/>
<polyline points="126.1,220.6 126.9,225.0 121.7,239.8 114.3,253.1 107.6,268.0 105.4,267.2 112.8,251.7 120.2,238.3 124.6,225.0 126.1,220.6" fill="none" stroke="#1a1a1a" stroke-width="0.9"/>
<polyline points="234.0,155.0 245.0,150.5 260.0,147.0 282.0,142.5 311.0,138.0 322.0,136.5" fill="none" stroke="#1a1a1a" stroke-width="0.9"/>
<polyline points="692.0,64.3 693.9,66.2 699.7,68.1 709.3,70.0 717.0,71.0 724.7,68.1" fill="none" stroke="#1a1a1a" stroke-width="0.9"/>
<polyline points="740.1,76.8 741.1,79.7 746.9,83.5 755.5,85.8 765.1,86.4 774.8,87.4" fill="none" stroke="#1a1a1a" stroke-width="0.9"/>
<polyline points="643.9,68.6 651.6,65.7 663.1,61.9 665.0,59.0" fill="none" stroke="#1a1a1a" stroke-width="0.9"/>
<polyline points="170.0,180.0 190.0,170.0 215.0,162.0 230.0,154.0 245.0,149.0 265.0,142.5 290.0,137.5 324.0,132.0 374.0,125.0 424.0,121.0 474.0,114.0 480.0,112.5 505.0,106.0 525.0,101.0 537.5,94.0 546.0,82.5 552.5,79.0 575.0,77.5 595.0,71.0 610.0,70.0 620.0,72.5 640.0,67.1 649.6,61.4 659.3,56.6 667.0,54.6 678.5,57.5 688.1,58.5 707.4,59.4 717.0,62.3 726.6,66.2 736.3,72.0 747.8,76.8 763.2,80.6 776.7,83.5" fill="none" stroke="#1a1a1a" stroke-width="1.45" stroke-linejoin="round"/>
<polyline points="102.0,272.5 107.0,264.0 113.0,255.0 117.5,244.0 121.5,233.7 124.5,226.0 128.0,218.6" fill="none" stroke="#1a1a1a" stroke-width="1.45" stroke-linejoin="round"/>
<circle cx="290.8" cy="152.5" r="10.0" fill="#000"/>
<circle cx="212.0" cy="192.5" r="9.5" fill="#000"/>
<circle cx="260.8" cy="195.5" r="10.0" fill="#000"/>
<circle cx="194.5" cy="221.2" r="10.0" fill="#000"/>
<circle cx="297.0" cy="217.5" r="12.0" fill="#000"/>
<circle cx="139.2" cy="237.5" r="5.0" fill="#000"/>
<circle cx="197.0" cy="249.2" r="7.5" fill="#000"/>
<circle cx="228.8" cy="253.0" r="7.5" fill="#000"/>
<circle cx="266.2" cy="251.2" r="10.0" fill="#000"/>
<circle cx="387.2" cy="133.2" r="3.0" fill="#000"/>
<circle cx="370.8" cy="147.5" r="5.0" fill="#000"/>
<circle cx="339.0" cy="152.5" r="3.0" fill="#000"/>
<circle cx="406.0" cy="144.5" r="3.0" fill="#000"/>
<circle cx="424.8" cy="140.0" r="3.0" fill="#000"/>
<circle cx="449.0" cy="139.2" r="7.5" fill="#000"/>
<circle cx="519.0" cy="129.2" r="5.0" fill="#000"/>
<circle cx="536.0" cy="103.5" r="5.0" fill="#000"/>
<circle cx="539.5" cy="158.2" r="7.5" fill="#000"/>
<circle cx="392.8" cy="158.2" r="3.0" fill="#000"/>
<circle cx="386.5" cy="176.2" r="5.5" fill="#000"/>
<circle cx="356.5" cy="179.5" r="7.5" fill="#000"/>
<circle cx="343.2" cy="180.0" r="3.0" fill="#000"/>
<circle cx="325.5" cy="173.0" r="5.2" fill="#000"/>
<circle cx="436.5" cy="172.5" r="5.5" fill="#000"/>
<circle cx="485.2" cy="172.5" r="3.0" fill="#000"/>
<circle cx="417.0" cy="187.5" r="3.0" fill="#000"/>
<circle cx="330.2" cy="192.5" r="9.5" fill="#000"/>
<circle cx="345.2" cy="199.2" r="3.0" fill="#000"/>
<circle cx="375.2" cy="200.8" r="7.5" fill="#000"/>
<circle cx="437.8" cy="198.8" r="7.0" fill="#000"/>
<circle cx="454.0" cy="198.0" r="9.5" fill="#000"/>
<circle cx="492.0" cy="193.2" r="5.0" fill="#000"/>
<circle cx="491.0" cy="209.0" r="7.0" fill="#000"/>
<circle cx="429.0" cy="214.2" r="10.0" fill="#000"/>
<circle cx="411.0" cy="215.0" r="7.5" fill="#000"/>
<circle cx="392.8" cy="219.5" r="10.0" fill="#000"/>
<circle cx="362.0" cy="220.0" r="10.0" fill="#000"/>
<circle cx="341.0" cy="223.8" r="5.0" fill="#000"/>
<circle cx="324.3" cy="236.0" r="7.5" fill="#000"/>
<circle cx="459.0" cy="237.3" r="5.0" fill="#000"/>
<circle cx="384.5" cy="242.6" r="10.0" fill="#000"/>
<circle cx="414.6" cy="247.6" r="10.0" fill="#000"/>
<circle cx="516.5" cy="246.0" r="3.0" fill="#000"/>
<circle cx="555.2" cy="208.0" r="3.0" fill="#000"/>
<circle cx="363.2" cy="256.0" r="5.0" fill="#000"/>
<circle cx="342.8" cy="258.6" r="7.0" fill="#000"/>
<circle cx="394.0" cy="264.5" r="7.0" fill="#000"/>
<circle cx="424.0" cy="265.8" r="7.5" fill="#000"/>
<circle cx="480.8" cy="266.5" r="5.0" fill="#000"/>
<circle cx="542.5" cy="257.4" r="3.0" fill="#000"/>
<circle cx="621.2" cy="88.8" r="3.0" fill="#000"/>
<circle cx="678.8" cy="75.8" r="3.0" fill="#000"/>
<circle cx="623.0" cy="125.0" r="5.0" fill="#000"/>
<circle cx="607.0" cy="161.8" r="5.0" fill="#000"/>
<circle cx="610.5" cy="211.2" r="5.0" fill="#000"/>
<circle cx="666.8" cy="212.5" r="7.5" fill="#000"/>
<circle cx="734.2" cy="150.0" r="10.5" fill="#000"/>
<circle cx="245.0" cy="282.8" r="7.5" fill="#000"/>
<circle cx="182.5" cy="299.8" r="12.0" fill="#000"/>
<circle cx="293.8" cy="303.5" r="12.0" fill="#000"/>
<circle cx="232.0" cy="305.2" r="5.0" fill="#000"/>
<circle cx="153.2" cy="323.5" r="12.0" fill="#000"/>
<circle cx="245.0" cy="329.0" r="12.0" fill="#000"/>
<circle cx="300.0" cy="336.5" r="2.5" fill="#000"/>
<circle cx="270.5" cy="355.2" r="3.0" fill="#000"/>
<circle cx="314.4" cy="380.0" r="7.5" fill="#000"/>
<circle cx="322.0" cy="278.0" r="7.5" fill="#000"/>
<circle cx="402.2" cy="277.8" r="3.0" fill="#000"/>
<circle cx="458.2" cy="278.2" r="3.0" fill="#000"/>
<circle cx="368.5" cy="287.8" r="7.5" fill="#000"/>
<circle cx="421.0" cy="295.2" r="3.0" fill="#000"/>
<circle cx="391.5" cy="299.0" r="5.0" fill="#000"/>
<circle cx="341.0" cy="302.2" r="10.0" fill="#000"/>
<circle cx="456.0" cy="318.2" r="7.5" fill="#000"/>
<circle cx="385.8" cy="326.5" r="5.0" fill="#000"/>
<circle cx="333.2" cy="344.8" r="7.0" fill="#000"/>
<circle cx="358.5" cy="344.0" r="3.0" fill="#000"/>
<circle cx="407.8" cy="347.2" r="5.0" fill="#000"/>
<circle cx="384.0" cy="352.2" r="5.0" fill="#000"/>
<circle cx="508.5" cy="351.5" r="10.0" fill="#000"/>
<circle cx="556.0" cy="348.5" r="6.5" fill="#000"/>
<circle cx="440.8" cy="365.2" r="5.0" fill="#000"/>
<circle cx="343.2" cy="370.5" r="5.0" fill="#000"/>
<circle cx="362.0" cy="374.8" r="3.0" fill="#000"/>
<circle cx="398.2" cy="377.0" r="7.5" fill="#000"/>
<circle cx="681.2" cy="243.2" r="5.0" fill="#000"/>
<circle cx="566.8" cy="259.0" r="5.0" fill="#000"/>
<circle cx="608.8" cy="274.0" r="7.5" fill="#000"/>
<circle cx="573.0" cy="287.8" r="7.5" fill="#000"/>
<circle cx="745.5" cy="294.6" r="10.0" fill="#000"/>
<circle cx="671.8" cy="312.8" r="10.0" fill="#000"/>
<circle cx="611.8" cy="314.0" r="7.5" fill="#000"/>
<circle cx="589.2" cy="321.0" r="2.5" fill="#000"/>
<circle cx="599.3" cy="349.0" r="7.5" fill="#000"/>
<circle cx="655.0" cy="366.0" r="5.0" fill="#000"/>
<circle cx="617.8" cy="374.2" r="7.5" fill="#000"/>
<circle cx="366.2" cy="407.0" r="7.5" fill="#000"/>
<circle cx="430.8" cy="411.5" r="5.0" fill="#000"/>
<circle cx="447.5" cy="425.5" r="5.0" fill="#000"/>
<circle cx="275.5" cy="404.5" r="3.0" fill="#000"/>
<circle cx="329.5" cy="435.0" r="5.0" fill="#000"/>
<circle cx="376.8" cy="493.0" r="7.5" fill="#000"/>
<circle cx="440.1" cy="491.0" r="7.5" fill="#000"/>
<circle cx="567.5" cy="404.4" r="7.5" fill="#000"/>
<circle cx="475.8" cy="412.0" r="5.0" fill="#000"/>
<circle cx="494.0" cy="454.7" r="5.0" fill="#000"/>
</g>
<!-- frame -->
<g fill="none" stroke="#111" stroke-width="1.3">
<rect x="41.1" y="34.3" width="868.1" height="630.3"/>
<path d="M166.45 28.2V34.3M330.94 28.2V34.3M495.43 28.2V34.3M659.92 28.2V34.3M824.41 28.2V34.3"/>
<path d="M166.45 664.6V671.2M330.94 664.6V671.2M495.43 664.6V671.2M659.92 664.6V671.2M824.41 664.6V671.2"/>
<path d="M34.9 35.30H41.1M34.9 152.78H41.1M34.9 270.26H41.1M34.9 387.74H41.1M34.9 505.22H41.1M34.9 622.70H41.1"/>
<path d="M909.2 35.30H915.6M909.2 152.78H915.6M909.2 270.26H915.6M909.2 387.74H915.6M909.2 505.22H915.6M909.2 622.70H915.6"/>
</g>
<!-- top labels -->
<g class="tk">
<text x="135.85" y="24.6">170000<tspan class="dec" dx="2.2" dy="-4.8">000000</tspan></text>
<text x="300.34" y="24.6">240000<tspan class="dec" dx="2.2" dy="-4.8">000000</tspan></text>
<text x="464.83" y="24.6">310000<tspan class="dec" dx="2.2" dy="-4.8">000000</tspan></text>
<text x="629.32" y="24.6">380000<tspan class="dec" dx="2.2" dy="-4.8">000000</tspan></text>
<text x="793.81" y="24.6">450000<tspan class="dec" dx="2.2" dy="-4.8">000000</tspan></text>
</g>
<!-- left labels (rotated) -->
<g class="tk">
<text transform="translate(30.9,68.80) rotate(-90)">2400000<tspan class="dec" dx="2.2" dy="-4.8">000000</tspan></text>
<text transform="translate(30.9,186.28) rotate(-90)">2350000<tspan class="dec" dx="2.2" dy="-4.8">000000</tspan></text>
<text transform="translate(30.9,303.76) rotate(-90)">2300000<tspan class="dec" dx="2.2" dy="-4.8">000000</tspan></text>
<text transform="translate(30.9,421.24) rotate(-90)">2250000<tspan class="dec" dx="2.2" dy="-4.8">000000</tspan></text>
<text transform="translate(30.9,538.72) rotate(-90)">2200000<tspan class="dec" dx="2.2" dy="-4.8">000000</tspan></text>
<text transform="translate(30.9,656.20) rotate(-90)">2150000<tspan class="dec" dx="2.2" dy="-4.8">000000</tspan></text>
</g>
<!-- north arrow -->
<g>
<text x="875.6" y="59.6" font-size="12.4" fill="#111">N</text>
<polygon points="880,65.2 877,87.4 880,87.4" fill="#fff" stroke="#111" stroke-width="0.5"/>
<polygon points="880,65.2 883,87.4 880,87.4" fill="#111" stroke="#111" stroke-width="0.5"/>
<polygon points="880,97.8 883.5,127.4 880,126" fill="#fff" stroke="#111" stroke-width="0.5"/>
<polygon points="880,97.8 876.8,127.4 880,126" fill="#111" stroke="#111" stroke-width="0.5"/>
<circle cx="880" cy="94.1" r="3" fill="#fff" stroke="#111" stroke-width="0.7"/>
<path d="M880 94.1V91.1A3 3 0 0 0 877 94.1ZM880 94.1V97.1A3 3 0 0 0 883 94.1Z" fill="#111"/>
</g>
<!-- scale bar -->
<g fill="none" stroke="#111" stroke-width="1.1">
<path d="M341.2 643.8V635.3H571.9V643.8M370 635.3V641.2M398.9 635.3V642M427.7 635.3V641.2M456.5 635.3V643.8M485.4 635.3V641.2M514.2 635.3V641.2M543 635.3V641.2"/>
</g>
<g class="sb">
<text x="341.2" y="657.9" text-anchor="middle">0</text>
<text x="398.4" y="657.9" text-anchor="middle">24,500</text>
<text x="455.6" y="657.9" text-anchor="middle">49,000</text>
<text x="553.6" y="657.9">98,000 m</text>
</g>
<!-- left legend -->
<g class="lt" text-anchor="middle" font-size="18.8">
<text x="167.1" y="474.6">Vulnerabilidad a la</text>
<text x="167.1" y="496.2">contaminación del acuífero</text>
</g>
<g>
<rect x="102" y="512.3" width="35" height="17" fill="#4c7300"/>
<rect x="102" y="536.25" width="35" height="17" fill="#70a800"/>
<rect x="102" y="560.2" width="35" height="17" fill="#ffff00"/>
<rect x="102" y="584.15" width="35" height="17" fill="#ffaa00"/>
<rect x="102" y="608.1" width="35" height="17" fill="#ff0000"/>
<rect x="102" y="632.05" width="35" height="17" fill="#a80000"/>
</g>
<g class="li" font-size="18.85">
<text x="143.7" y="528.3">Muy bajo</text>
<text x="143.7" y="552.2">Bajo</text>
<text x="143.7" y="576.1">Medio</text>
<text x="143.7" y="600">Alto</text>
<text x="143.7" y="623.9">Muy alto</text>
<text x="143.7" y="647.8">Extremo</text>
</g>
<!-- right legend -->
<g class="lt">
<text x="675.6" y="465.7" font-size="18.7">Población porcina</text>
<text x="637" y="490.7" font-size="17.65">(número de cabezas de cerdo)</text>
</g>
<g fill="#000">
<circle cx="676.4" cy="510.7" r="3.2"/>
<circle cx="676.7" cy="537.5" r="5.5"/>
<circle cx="676.7" cy="565" r="8.5"/>
<circle cx="676.8" cy="593.7" r="11.5"/>
<circle cx="676.4" cy="626.2" r="13.7"/>
</g>
<g class="li" font-size="18.75">
<text x="692.4" y="517">menos de 5897</text>
<text x="692.4" y="543.6">de 5897 a 11896</text>
<text x="695.4" y="569.4">de 11896 a 19896</text>
<text x="695.4" y="602.3">de 19896 a 48596</text>
<text x="695.4" y="633.2">de 48596 a 96854</text>
</g>
</svg>
</body></html>
